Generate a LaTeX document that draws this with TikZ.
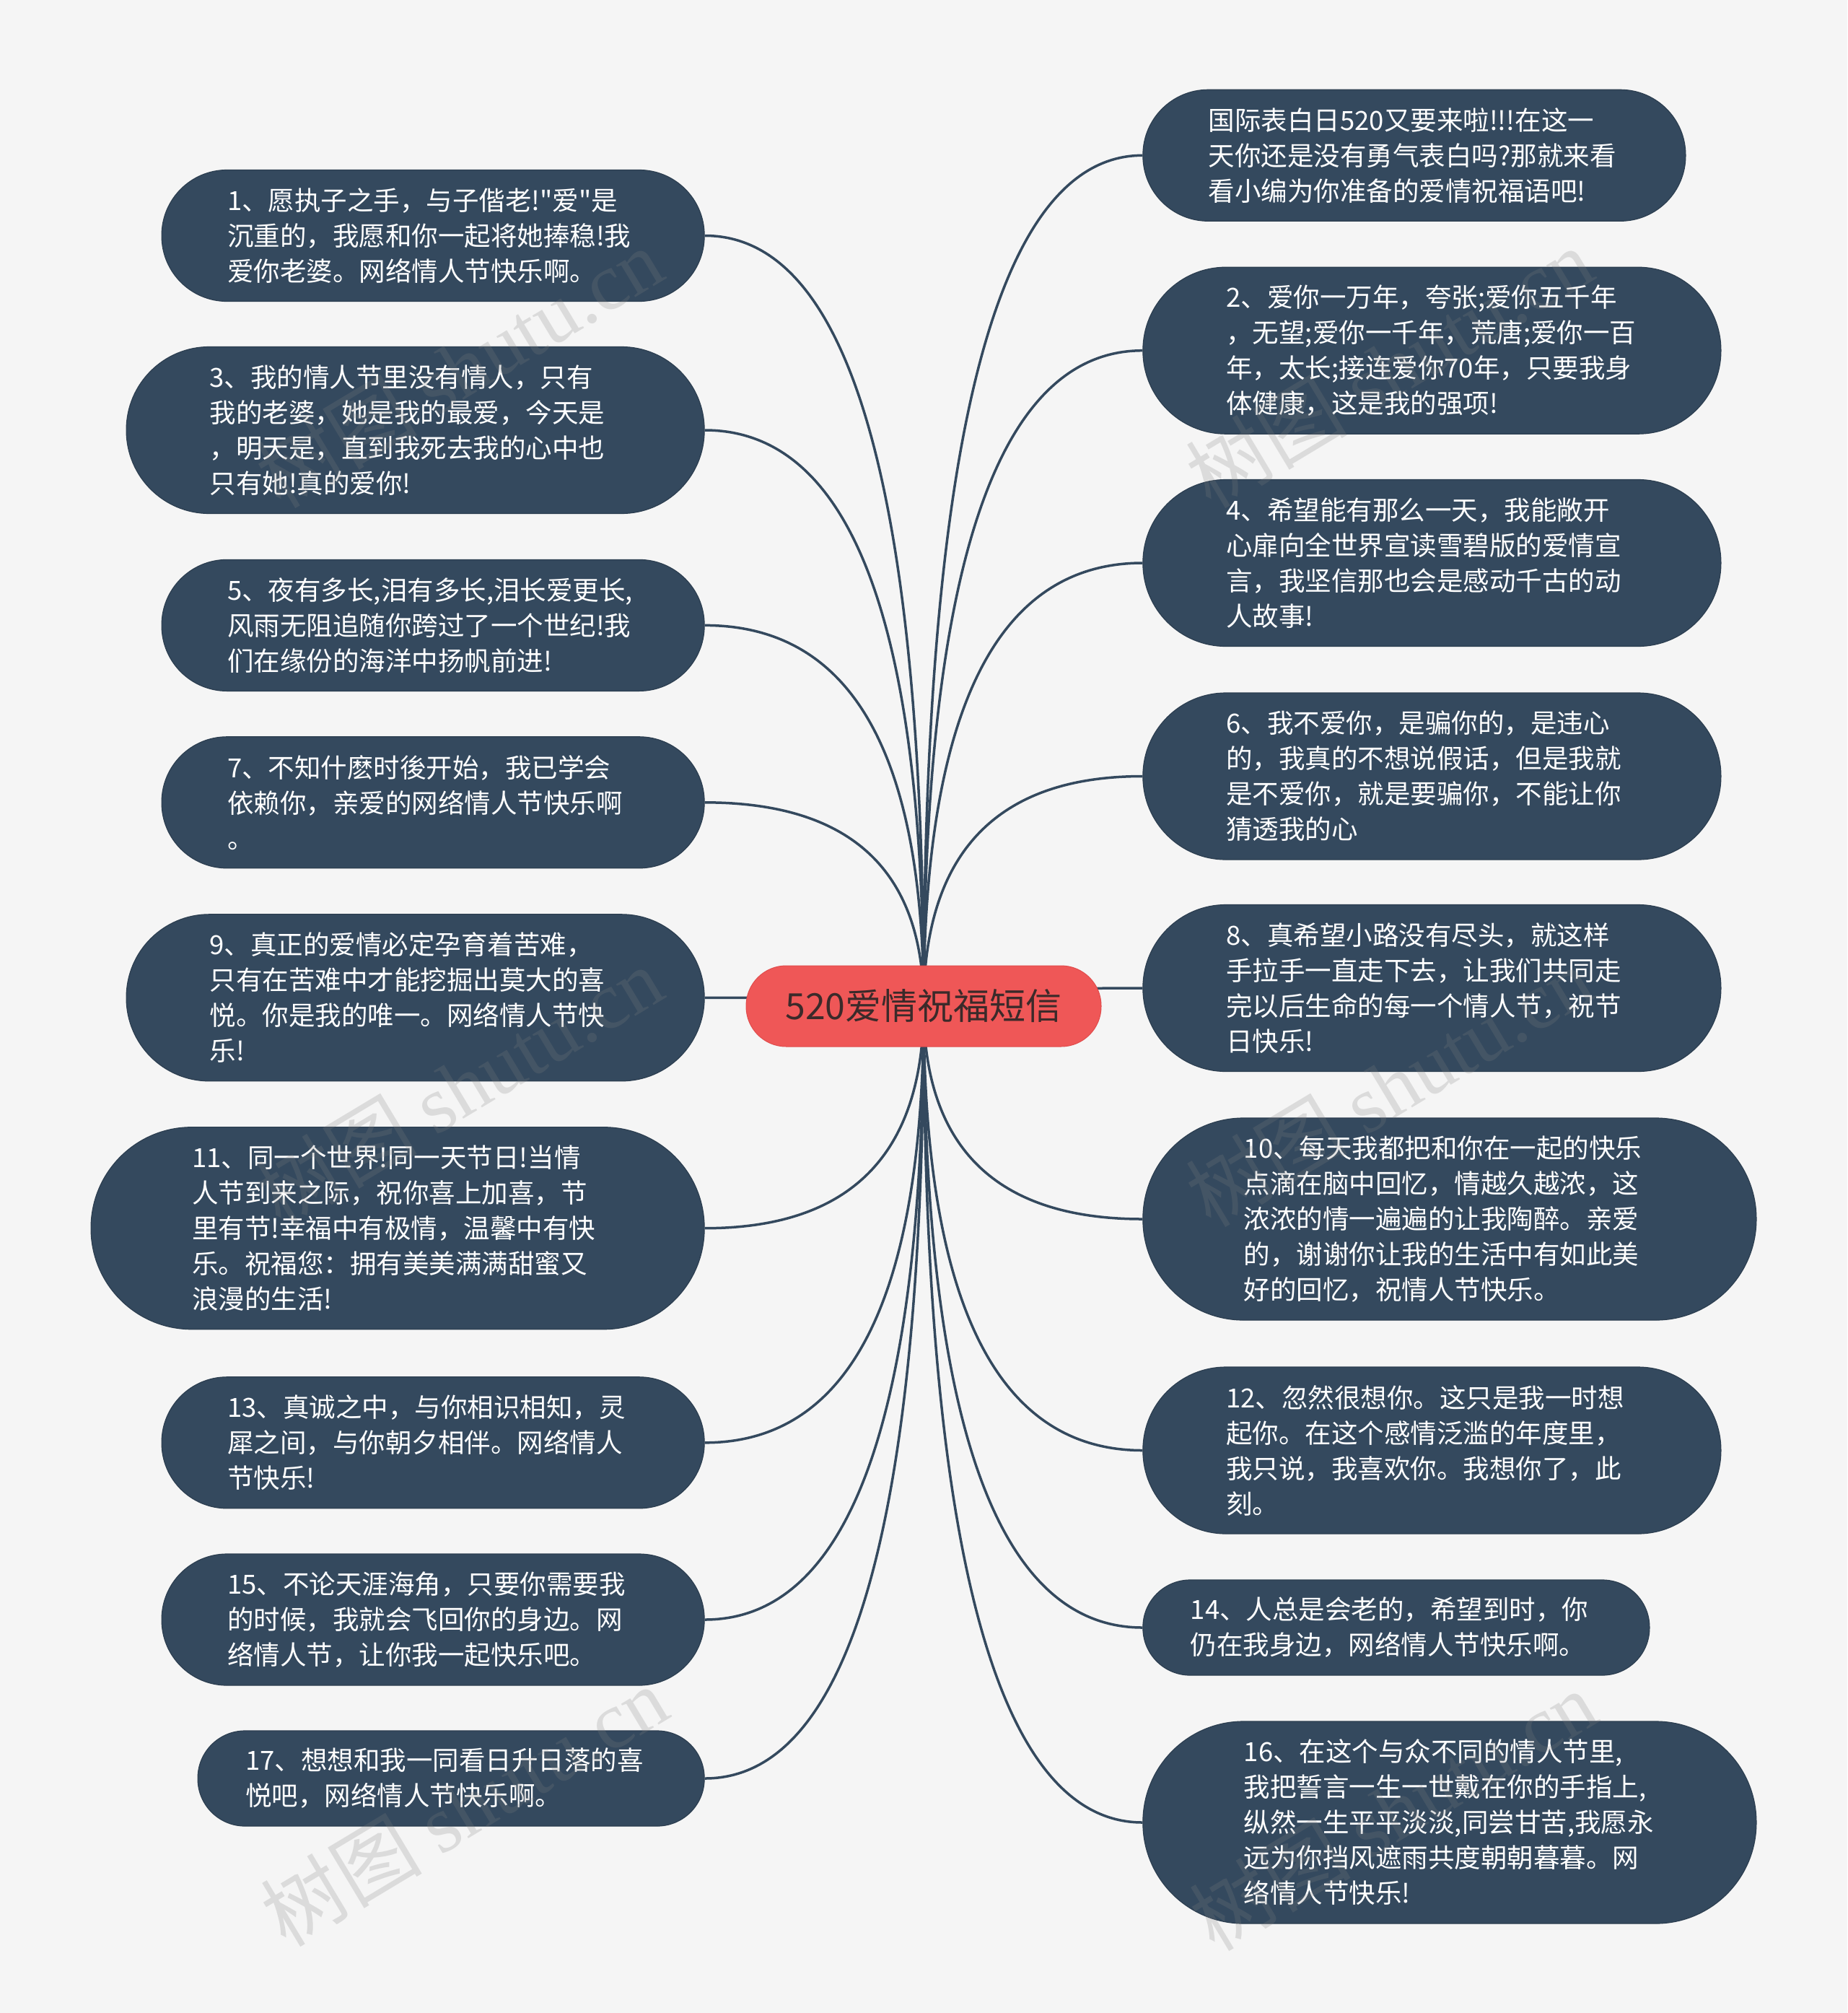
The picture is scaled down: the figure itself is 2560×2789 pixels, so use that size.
\documentclass[tikz,border=0pt]{standalone}
\usepackage{fontspec}
\setmainfont{Noto Sans CJK SC}[Ligatures=TeXOff]
\newfontfamily\wmlatin{Liberation Serif}
\usetikzlibrary{calc}
\definecolor{bgc}{HTML}{F5F5F5}
\definecolor{nodeblue}{HTML}{34495E}
\definecolor{nodeedge}{HTML}{2C3E50}
\definecolor{rootred}{HTML}{EF5757}
\definecolor{rootedge}{HTML}{E04C4C}
\definecolor{roottext}{HTML}{3B2A2A}
\pgfdeclarelayer{bgl}
\pgfdeclarelayer{edgel}
\pgfdeclarelayer{wml}
\pgfsetlayers{bgl,edgel,main,wml}
\begin{document}
\begin{tikzpicture}[x=1pt,y=-1pt,
  leaf/.style={rectangle, fill=nodeblue, draw=nodeedge, line width=1.2pt, text=white,
    align=left, text width=570pt, inner ysep=0pt, font=\fontsize{36.5}{49}\selectfont},
  lines2/.style={leaf, minimum height=132pt, inner xsep=66pt, rounded corners=65.5pt},
  lines3/.style={leaf, minimum height=182pt, inner xsep=91pt, rounded corners=90.5pt},
  lines4/.style={leaf, minimum height=231pt, inner xsep=115.5pt, rounded corners=115pt},
  lines5/.style={leaf, minimum height=280pt, inner xsep=140pt, rounded corners=139.5pt},
  leftleaf/.style={anchor=east},
  rightleaf/.style={anchor=west},
  root/.style={rectangle, fill=rootred, draw=rootedge, line width=1pt, text=roottext,
    minimum width=492pt, minimum height=112pt, inner sep=0pt, rounded corners=55.5pt,
    font=\fontsize{50}{60}\selectfont},
  link/.style={draw=nodeblue, line width=3.5pt},
  wm/.style={rotate=31, text=gray, opacity=0.22, inner sep=0pt, font=\fontsize{112}{112}\selectfont}
]
\begin{pgfonlayer}{bgl}
  \fill[bgc] (0,0) rectangle (2560,2789);
\end{pgfonlayer}
\useasboundingbox (0,0) rectangle (2560,2789);

\node[root] (c) at (1280,1394) {520爱情祝福短信};

% left side
\node[lines3, leftleaf] (L1) at (976.7,326.5) {1、愿执子之手，与子偕老!"爱"是\\沉重的，我愿和你一起将她捧稳!我\\爱你老婆。网络情人节快乐啊。};
\node[lines4, leftleaf] (L3) at (976.7,596) {3、我的情人节里没有情人，只有\\我的老婆，她是我的最爱，今天是\\，明天是，直到我死去我的心中也\\只有她!真的爱你!};
\node[lines3, leftleaf] (L5) at (976.7,866.4) {5、夜有多长,泪有多长,泪长爱更长,\\风雨无阻追随你跨过了一个世纪!我\\们在缘份的海洋中扬帆前进!};
\node[lines3, leftleaf] (L7) at (976.7,1111.8) {7、不知什麽时後开始，我已学会\\依赖你，亲爱的网络情人节快乐啊\\。};
\node[lines4, leftleaf] (L9) at (976.7,1382.3) {9、真正的爱情必定孕育着苦难，\\只有在苦难中才能挖掘出莫大的喜\\悦。你是我的唯一。网络情人节快\\乐!};
\node[lines5, leftleaf] (L11) at (976.7,1701.7) {11、同一个世界!同一天节日!当情\\人节到来之际，祝你喜上加喜，节\\里有节!幸福中有极情，温馨中有快\\乐。祝福您：拥有美美满满甜蜜又\\浪漫的生活!};
\node[lines3, leftleaf] (L13) at (976.7,1998.8) {13、真诚之中，与你相识相知，灵\\犀之间，与你朝夕相伴。网络情人\\节快乐!};
\node[lines3, leftleaf] (L15) at (976.7,2244) {15、不论天涯海角，只要你需要我\\的时候，我就会飞回你的身边。网\\络情人节，让你我一起快乐吧。};
\node[lines2, leftleaf] (L17) at (976.7,2464) {17、想想和我一同看日升日落的喜\\悦吧，网络情人节快乐啊。};

% right side
\node[lines3, rightleaf] (R0) at (1583.3,215.3) {国际表白日520又要来啦!!!在这一\\天你还是没有勇气表白吗?那就来看\\看小编为你准备的爱情祝福语吧!};
\node[lines4, rightleaf] (R2) at (1583.3,485.7) {2、爱你一万年，夸张;爱你五千年\\，无望;爱你一千年，荒唐;爱你一百\\年，太长;接连爱你70年，只要我身\\体健康，这是我的强项!};
\node[lines4, rightleaf] (R4) at (1583.3,780) {4、希望能有那么一天，我能敞开\\心扉向全世界宣读雪碧版的爱情宣\\言，我坚信那也会是感动千古的动\\人故事!};
\node[lines4, rightleaf] (R6) at (1583.3,1075.5) {6、我不爱你，是骗你的，是违心\\的，我真的不想说假话，但是我就\\是不爱你，就是要骗你，不能让你\\猜透我的心};
\node[lines4, rightleaf] (R8) at (1583.3,1369) {8、真希望小路没有尽头，就这样\\手拉手一直走下去，让我们共同走\\完以后生命的每一个情人节，祝节\\日快乐!};
\node[lines5, rightleaf] (R10) at (1583.3,1689) {10、每天我都把和你在一起的快乐\\点滴在脑中回忆，情越久越浓，这\\浓浓的情一遍遍的让我陶醉。亲爱\\的，谢谢你让我的生活中有如此美\\好的回忆，祝情人节快乐。};
\node[lines4, rightleaf] (R12) at (1583.3,2009.5) {12、忽然很想你。这只是我一时想\\起你。在这个感情泛滥的年度里，\\我只说，我喜欢你。我想你了，此\\刻。};
\node[lines2, rightleaf] (R14) at (1583.3,2255) {14、人总是会老的，希望到时，你\\仍在我身边，网络情人节快乐啊。};
\node[lines5, rightleaf] (R16) at (1583.3,2525) {16、在这个与众不同的情人节里,\\我把誓言一生一世戴在你的手指上,\\纵然一生平平淡淡,同尝甘苦,我愿永\\远为你挡风遮雨共度朝朝暮暮。网\\络情人节快乐!};

\begin{pgfonlayer}{edgel}
\foreach \n/\a in {L1/east,L3/east,L5/east,L7/east,L9/east,L11/east,L13/east,L15/east,L17/east,
  R0/west,R2/west,R4/west,R6/west,R8/west,R10/west,R12/west,R14/west,R16/west}
  \draw[link] (c.center) .. controls ($(c.center)!2/3!(c.center |- \n.\a)$) and ($(\n.\a)!2/3!(c.center |- \n.\a)$) .. (\n.\a);
\end{pgfonlayer}

\begin{pgfonlayer}{wml}
\node[wm] (w1) at (636,509) {树图 {\wmlatin shutu.cn}};
\node[wm] (w2) at (1925,509) {树图 {\wmlatin shutu.cn}};
\node[wm] (w3) at (636,1505) {树图 {\wmlatin shutu.cn}};
\node[wm] (w4) at (1925,1505) {树图 {\wmlatin shutu.cn}};
\node[wm] (w5) at (643,2502) {树图 {\wmlatin shutu.cn}};
\node[wm] (w6) at (1930,2508) {树图 {\wmlatin shutu.cn}};
\end{pgfonlayer}
\end{tikzpicture}
\end{document}
